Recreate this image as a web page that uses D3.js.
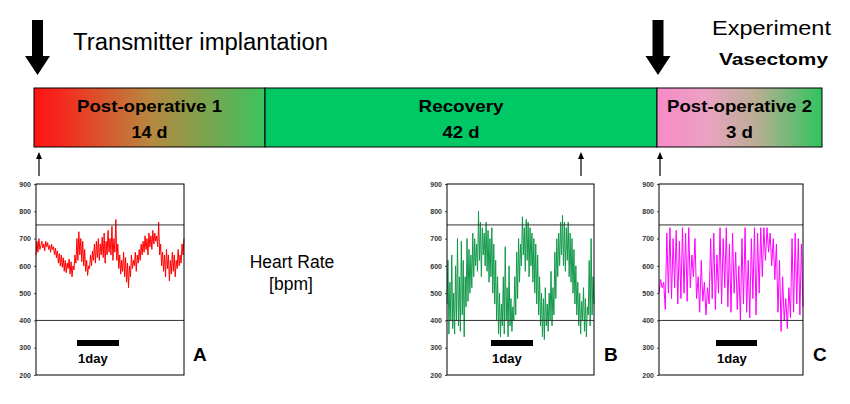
<!DOCTYPE html>
<html><head><meta charset="utf-8">
<script src="https://cdn.jsdelivr.net/npm/d3@7"></script>
<style>body{margin:0;background:#fff}svg{display:block}text{font-family:Arial,"Liberation Sans",sans-serif}</style>
</head><body><svg id="c" width="850" height="404"></svg>
<script>
// ---- data ----
const yTicks = [900, 800, 700, 600, 500, 400, 300, 200];
const refLines = [750, 400];
const phases = ["Post-operative 1", "Recovery", "Post-operative 2"];
const phaseDays = ["14 d", "42 d", "3 d"];
const panelLabels = ["A", "B", "C"];
const heartA = [640,690,650,700,660,675,690,665,680,655,690,670,685,660,675,650,680,660,670,640,665,630,655,610,645,600,640,595,630,580,620,575,610,590,625,570,615,560,600,585,640,610,700,620,725,640,700,615,690,600,660,580,620,565,600,590,640,600,655,620,680,610,690,630,700,620,680,640,705,630,720,610,690,640,730,650,700,640,745,620,700,650,770,620,680,590,640,570,620,580,650,560,630,540,610,520,600,560,640,590,620,600,650,580,640,610,660,620,680,640,690,650,710,660,700,640,720,670,710,660,730,680,720,690,710,670,760,640,680,600,650,580,640,560,660,590,640,545,620,570,650,580,640,560,620,590,660,600,640,610,680,640,700];
const heartB = [460,620,350,540,400,640,370,500,350,600,400,700,380,560,360,690,420,620,340,560,450,700,470,660,500,640,520,720,560,700,600,680,580,800,620,760,560,740,640,720,600,760,580,730,540,700,560,740,500,680,460,620,400,560,350,500,340,460,380,560,350,670,400,520,340,600,380,480,360,450,400,560,420,650,480,700,540,680,600,780,640,740,580,770,620,760,560,740,600,720,540,700,500,680,460,640,420,560,380,500,340,480,330,520,380,460,360,500,400,580,380,520,420,650,480,700,560,720,600,760,640,785,600,760,580,740,620,760,560,720,540,700,500,660,460,600,420,540,380,500,350,470,400,520,360,480,340,450,420,620,380,700,420,560,460];
const heartC = [500,550,520,540,440,720,500,740,480,700,520,730,460,690,480,740,500,720,470,740,520,640,560,700,480,560,430,620,470,540,420,520,460,700,480,720,440,640,500,740,460,700,520,740,450,680,430,720,500,650,440,600,400,700,460,740,430,620,410,700,480,740,420,720,500,740,560,740,620,740,650,720,600,700,550,680,430,620,360,560,400,480,370,520,410,700,430,720,460,700,420,680,450];
const series = [heartA, heartB, heartC];

// ---- layout ----
const svg = d3.select("#c");
const bounds = [34, 265, 657, 822];
const barTop = 88, barBot = 147;
const phaseW = [145, 85, 145];
const dayW = [36, 37, 27];

const defs = svg.append("defs");
const g1 = defs.append("linearGradient").attr("id", "g1");
[[0, "#ff1414"], [0.12, "#f52a1e"], [0.5, "#b8873f"], [1, "#3cc35f"]].forEach(s => g1.append("stop").attr("offset", s[0]).attr("stop-color", s[1]));
const g3 = defs.append("linearGradient").attr("id", "g3");
[[0, "#f78ac8"], [0.3, "#eba2c2"], [0.6, "#baae94"], [1, "#2fc45e"]].forEach(s => g3.append("stop").attr("offset", s[0]).attr("stop-color", s[1]));
const fills = ["url(#g1)", "#00c864", "url(#g3)"];

function txt(x, yy, s, size, opts = {}) {
  const t = svg.append("text").attr("x", x).attr("y", yy).attr("font-size", size).text(s);
  if (opts.anchor) t.attr("text-anchor", opts.anchor);
  if (opts.bold) t.attr("font-weight", "bold");
  if (opts.len) t.attr("textLength", opts.len).attr("lengthAdjust", "spacingAndGlyphs");
  return t;
}

phases.forEach((p, i) => {
  svg.append("rect").attr("x", bounds[i]).attr("y", barTop).attr("width", bounds[i+1] - bounds[i]).attr("height", barBot - barTop)
    .attr("fill", fills[i]).attr("stroke", "#000").attr("stroke-width", 1);
  const cx = (bounds[i] + bounds[i+1]) / 2;
  txt(cx, 112, p, 17, {anchor: "middle", bold: true, len: phaseW[i]});
  txt(cx, 138, phaseDays[i], 17, {anchor: "middle", bold: true, len: dayW[i]});
});

// big arrows
function bigArrow(cx) {
  const p = d3.path();
  p.moveTo(cx - 5.5, 20); p.lineTo(cx + 5.5, 20); p.lineTo(cx + 5.5, 56); p.lineTo(cx + 12.5, 56);
  p.lineTo(cx, 75); p.lineTo(cx - 12.5, 56); p.lineTo(cx - 5.5, 56); p.closePath();
  svg.append("path").attr("d", p.toString()).attr("fill", "#000");
}
bigArrow(37.5); bigArrow(658);
txt(73, 50, "Transmitter implantation", 23, {len: 255});
txt(712, 35, "Experiment", 21, {len: 119});
txt(719, 65, "Vasectomy", 17, {bold: true, len: 109});

// small arrows
function smallArrow(cx) {
  svg.append("line").attr("x1", cx).attr("x2", cx).attr("y1", 156).attr("y2", 176).attr("stroke", "#000").attr("stroke-width", 1.2);
  svg.append("path").attr("d", `M${cx-3},${159}L${cx},${152}L${cx+3},${159}Z`).attr("fill", "#000");
}
[39, 581, 660].forEach(smallArrow);

// Heart rate label
txt(292, 268, "Heart Rate", 17.5, {anchor: "middle"});
txt(291, 290, "[bpm]", 17.5, {anchor: "middle"});

// panels
const panels = [
  {x0: 36, x1: 184, color: "#ff0000", bar: [77, 119], lab: 193},
  {x0: 447, x1: 594, color: "#12994a", bar: [491, 533], lab: 604},
  {x0: 659, x1: 803, color: "#ff00ff", bar: [716, 757], lab: 813}
];
const plotTop = 184, plotBot = 375;
const y = d3.scaleLinear().domain([200, 900]).range([plotBot, plotTop]);
panels.forEach((pn, i) => {
  const data = series[i];
  const x = d3.scaleLinear().domain([0, data.length - 1]).range([pn.x0, pn.x1]);
  const g = svg.append("g");
  const ax = g.append("g").attr("transform", `translate(${pn.x0},0)`).style("color", "#333")
    .call(d3.axisLeft(y).tickValues(yTicks).tickSize(2).tickSizeOuter(0));
  ax.select(".domain").remove();
  ax.selectAll("line").attr("stroke", "#555");
  ax.selectAll("text").attr("font-size", 7).attr("font-weight", "bold").attr("fill", "#333").attr("x", -5);
  g.append("path").datum(data)
    .attr("d", d3.line().x((d, j) => x(j)).y(d => y(d)))
    .attr("fill", "none").attr("stroke", pn.color).attr("stroke-width", 1).attr("stroke-linejoin", "round");
  refLines.forEach(v => g.append("line").attr("x1", pn.x0).attr("x2", pn.x1).attr("y1", y(v)).attr("y2", y(v)).attr("stroke", "#333").attr("stroke-width", 1));
  g.append("rect").attr("x", pn.x0).attr("y", plotTop).attr("width", pn.x1 - pn.x0).attr("height", plotBot - plotTop)
    .attr("fill", "none").attr("stroke", "#000").attr("stroke-width", 1);
  g.append("rect").attr("x", pn.bar[0]).attr("y", 340).attr("width", pn.bar[1] - pn.bar[0]).attr("height", 6).attr("fill", "#000");
  g.append("text").attr("x", pn.bar[0] + 1).attr("y", 363).attr("font-size", 13).attr("font-weight", "bold").text("1day");
  g.append("text").attr("x", pn.lab).attr("y", 361).attr("font-size", 19).attr("font-weight", "bold").text(panelLabels[i]);
});
</script></body></html>
